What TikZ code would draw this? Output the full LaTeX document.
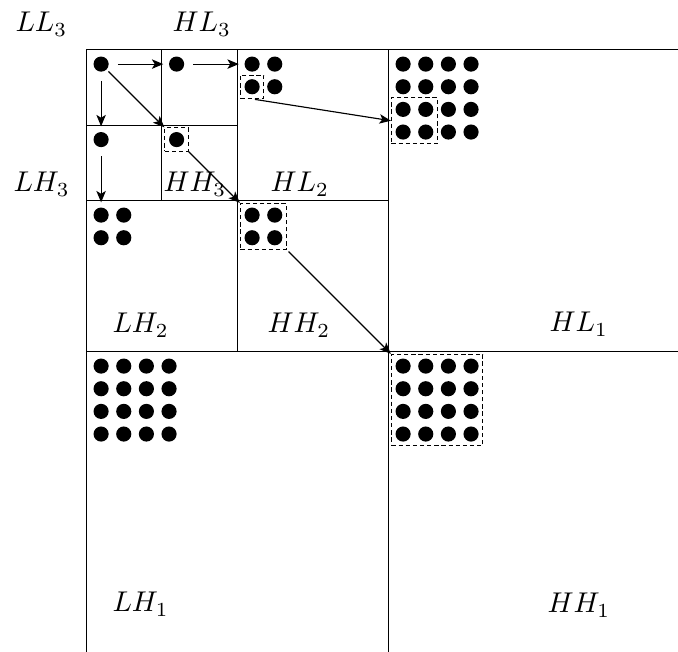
\documentclass[tikz,border=0pt]{standalone}
\usetikzlibrary{arrows.meta,fit}
\begin{document}
\begin{tikzpicture}[x=0.35pt,y=-0.35pt,
  dot/.style={circle,fill=black,inner sep=0pt,minimum size=5.3pt},
  dbox/.style={draw,rectangle,dash pattern=on 1.5pt off 1pt,line width=0.35pt,inner sep=1.25pt},
  lab/.style={anchor=base west,inner sep=0pt},
  arr/.style={-{Stealth[length=4pt,width=3.3pt,inset=1pt]},line width=0.4pt},
  gridline/.style={line width=0.4pt}]
\useasboundingbox (0,0) rectangle (678,652);
% grid lines
\draw[gridline] (86.5,652) -- (86.5,49.5) -- (678,49.5);
\draw[gridline] (86.5,351.5) -- (678,351.5);
\draw[gridline] (388.5,49.5) -- (388.5,652);
\draw[gridline] (237.5,49.5) -- (237.5,351.5);
\draw[gridline] (86.5,200.5) -- (388.5,200.5);
\draw[gridline] (86.5,125.5) -- (237.5,125.5);
\draw[gridline] (161.5,49.5) -- (161.5,200.5);
% level 3 dots
\node[dot] (ll3) at (101.1,64.1) {};
\node[dot] (hl3) at (176.6,64.1) {};
\node[dot] (lh3) at (101.1,139.6) {};
\node[dot] (hh3) at (176.6,139.6) {};
% level 2 dots
\foreach \i in {0,1} \foreach \j in {0,1} {
  \node[dot] (hl2-\i-\j) at (252.1+22.65*\i,64.1+22.65*\j) {};
  \node[dot] (lh2-\i-\j) at (101.1+22.65*\i,215.1+22.65*\j) {};
  \node[dot] (hh2-\i-\j) at (252.1+22.65*\i,215.1+22.65*\j) {};
}
% level 1 dots
\foreach \i in {0,1,2,3} \foreach \j in {0,1,2,3} {
  \node[dot] (hl1-\i-\j) at (403.1+22.65*\i,64.1+22.65*\j) {};
  \node[dot] (lh1-\i-\j) at (101.1+22.65*\i,366.1+22.65*\j) {};
  \node[dot] (hh1-\i-\j) at (403.1+22.65*\i,366.1+22.65*\j) {};
}
% dashed boxes
\node[dbox,fit=(hh3)] (bhh3) {};
\node[dbox,fit=(hl2-0-1)] (bhl2) {};
\node[dbox,fit=(hh2-0-0)(hh2-1-1)] (bhh2) {};
\node[dbox,fit=(hl1-0-2)(hl1-1-3)] (bhl1) {};
\node[dbox,fit=(hh1-0-0)(hh1-3-3)] (bhh1) {};
% arrows
\draw[arr,shorten <=3pt,shorten >=1.8pt] (ll3) -- (hl3);
\draw[arr,shorten <=3pt,shorten >=1.8pt] (hl3) -- (hl2-0-0);
\draw[arr,shorten <=3pt,shorten >=1.8pt] (ll3) -- (lh3);
\draw[arr,shorten <=3pt,shorten >=1.6pt] (lh3) -- (lh2-0-0);
\draw[arr,shorten <=0.8pt] (ll3) -- (bhh3);
\draw[arr] (bhh3) -- (bhh2);
\draw[arr,shorten <=1pt] (bhl2.south) -- (bhl1.west);
\draw[arr,shorten <=0.8pt] (bhh2) -- (bhh1);
% labels
\node[lab] (tLL3) at (15,32) {$LL_3$};
\node[lab] (tHL3) at (172,32) {$HL_3$};
\node[lab] (tLH3) at (13,192) {$LH_3$};
\node[lab] (tHH3) at (163,192) {$HH_3$};
\node[lab] (tHL2) at (270,192) {$HL_2$};
\node[lab] (tLH2) at (112,333) {$LH_2$};
\node[lab] (tHH2) at (267,333) {$HH_2$};
\node[lab] (tHL1) at (549,332) {$HL_1$};
\node[lab] (tLH1) at (112,612) {$LH_1$};
\node[lab] (tHH1) at (547,613) {$HH_1$};
\end{tikzpicture}
\end{document}
